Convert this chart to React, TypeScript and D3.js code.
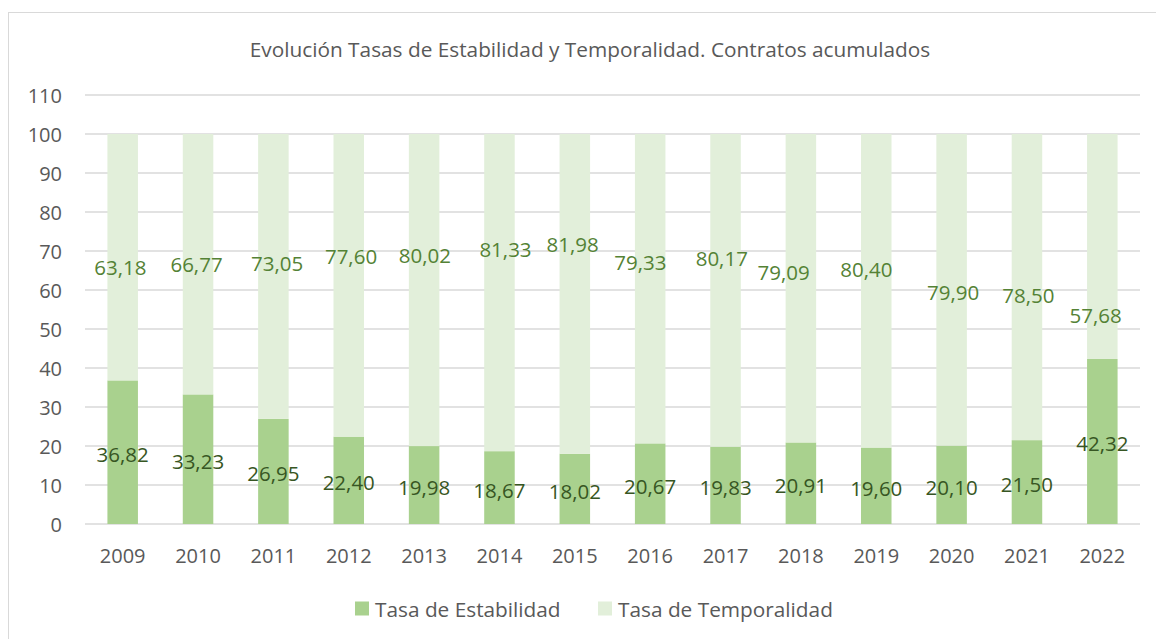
import React from "react";
import * as d3 from "d3";

const years = ["2009","2010","2011","2012","2013","2014","2015","2016","2017","2018","2019","2020","2021","2022"];
const estabilidad = [36.82,33.23,26.95,22.40,19.98,18.67,18.02,20.67,19.83,20.91,19.60,20.10,21.50,42.32];
const temporalidad = [63.18,66.77,73.05,77.60,80.02,81.33,81.98,79.33,80.17,79.09,80.40,79.90,78.50,57.68];
// where each (manually dragged) Temporalidad label sits, in axis units and band fractions
const temporalLabelAt = [65.9,66.7,66.9,68.8,69.1,70.5,71.9,67.3,68.2,64.7,65.4,59.6,58.8,53.5];
const temporalLabelShift = [-0.03,-0.02,0.05,0.03,0.01,0.08,-0.03,-0.13,-0.05,-0.23,-0.13,0.02,0.02,-0.09];
const yTicks = [0,10,20,30,40,50,60,70,80,90,100,110];
const title = "Evolución Tasas de Estabilidad y Temporalidad. Contratos acumulados";
const seriesNames = ["Tasa de Estabilidad","Tasa de Temporalidad"];
const colors = ["#A9D18E","#E2EFDA"];
const labelColors = ["#375623","#548235"];

const W = 1156, H = 639;
const FONT = "'Open Sans', Lato, sans-serif";
const fmt = (v: number) => v.toFixed(2).replace(".", ",");

export default function App() {
  const x = d3.scaleBand<string>().domain(years).range([85, 1140]).paddingInner(0.595).paddingOuter(0.2975);
  const y = d3.scaleLinear().domain([0, 110]).range([524, 95]);
  const bw = x.bandwidth();
  const step = x.step();
  return (
    <svg width={W} height={H} style={{ position: "absolute", left: 0, top: 0, background: "#fff" }} fontFamily={FONT}>
      <rect x={8.5} y={12.5} width={1170} height={660} fill="#fff" stroke="#D9D9D9" strokeWidth={1} />
      <text x={590} y={49} textAnchor="middle" dominantBaseline="central" fontSize={20.8} fill="#595959">{title}</text>
      {yTicks.map(t => (
        <g key={t}>
          <line x1={85} x2={1140} y1={y(t)} y2={y(t)} stroke="#D9D9D9" strokeWidth={1.5} />
          <text x={62} y={y(t)} textAnchor="end" dominantBaseline="central" fontSize={20} fill="#595959">{t}</text>
        </g>
      ))}
      {years.map((yr, i) => {
        const x0 = x(yr)!;
        const cx = x0 + bw / 2;
        const e = estabilidad[i];
        const t = temporalidad[i];
        return (
          <g key={yr}>
            <rect x={x0} width={bw} y={y(e)} height={y(0) - y(e)} fill={colors[0]} />
            <rect x={x0} width={bw} y={y(e + t)} height={y(e) - y(e + t)} fill={colors[1]} />
            <text x={cx} y={y(e / 2) + 2} textAnchor="middle" dominantBaseline="central" fontSize={20.5} fill={labelColors[0]}>{fmt(e)}</text>
            <text x={cx + temporalLabelShift[i] * step} y={y(temporalLabelAt[i])} textAnchor="middle" dominantBaseline="central" fontSize={20.5} fill={labelColors[1]}>{fmt(t)}</text>
            <text x={cx} y={555} textAnchor="middle" dominantBaseline="central" fontSize={20} fill="#595959">{yr}</text>
          </g>
        );
      })}
      <g>
        <rect x={355} y={601.5} width={14} height={14} fill={colors[0]} />
        <text x={375} y={608.5} dominantBaseline="central" fontSize={20.8} fill="#595959">{seriesNames[0]}</text>
        <rect x={598} y={601.5} width={14} height={14} fill={colors[1]} />
        <text x={618} y={608.5} dominantBaseline="central" fontSize={20.8} fill="#595959">{seriesNames[1]}</text>
      </g>
    </svg>
  );
}
